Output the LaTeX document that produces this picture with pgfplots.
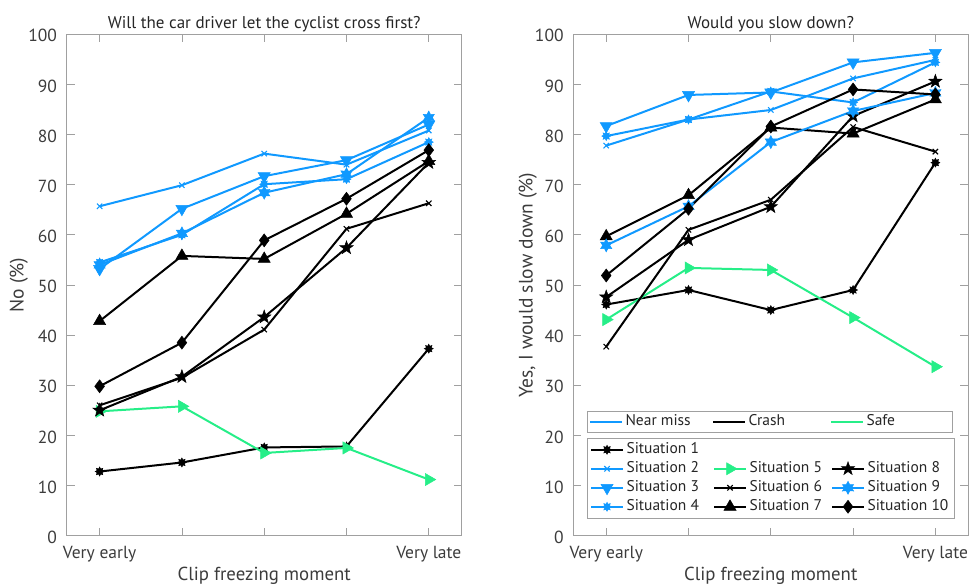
\documentclass[border=0pt]{standalone}
\usepackage{fontspec}
\setmainfont{PT Sans}
\usepackage{pgfplots}
\pgfplotsset{compat=1.18}
\definecolor{cblue}{RGB}{16,153,255}
\definecolor{cgreen}{RGB}{38,238,136}
\definecolor{axgray}{RGB}{160,160,160}
\definecolor{txtgray}{RGB}{60,60,60}
\definecolor{ttlgray}{RGB}{38,38,38}

\pgfdeclareplotmark{pentagram}{%
 \pgfpathmoveto{\pgfpointpolar{90}{\pgfplotmarksize}}%
 \pgfpathlineto{\pgfpointpolar{126}{0.4\pgfplotmarksize}}%
 \pgfpathlineto{\pgfpointpolar{162}{\pgfplotmarksize}}%
 \pgfpathlineto{\pgfpointpolar{198}{0.4\pgfplotmarksize}}%
 \pgfpathlineto{\pgfpointpolar{234}{\pgfplotmarksize}}%
 \pgfpathlineto{\pgfpointpolar{270}{0.4\pgfplotmarksize}}%
 \pgfpathlineto{\pgfpointpolar{306}{\pgfplotmarksize}}%
 \pgfpathlineto{\pgfpointpolar{342}{0.4\pgfplotmarksize}}%
 \pgfpathlineto{\pgfpointpolar{18}{\pgfplotmarksize}}%
 \pgfpathlineto{\pgfpointpolar{54}{0.4\pgfplotmarksize}}%
 \pgfpathclose\pgfusepathqfillstroke}
\pgfdeclareplotmark{hexagram}{%
 \pgfpathmoveto{\pgfpointpolar{90}{\pgfplotmarksize}}%
 \pgfpathlineto{\pgfpointpolar{120}{0.55\pgfplotmarksize}}%
 \pgfpathlineto{\pgfpointpolar{150}{\pgfplotmarksize}}%
 \pgfpathlineto{\pgfpointpolar{180}{0.55\pgfplotmarksize}}%
 \pgfpathlineto{\pgfpointpolar{210}{\pgfplotmarksize}}%
 \pgfpathlineto{\pgfpointpolar{240}{0.55\pgfplotmarksize}}%
 \pgfpathlineto{\pgfpointpolar{270}{\pgfplotmarksize}}%
 \pgfpathlineto{\pgfpointpolar{300}{0.55\pgfplotmarksize}}%
 \pgfpathlineto{\pgfpointpolar{330}{\pgfplotmarksize}}%
 \pgfpathlineto{\pgfpointpolar{0}{0.55\pgfplotmarksize}}%
 \pgfpathlineto{\pgfpointpolar{30}{\pgfplotmarksize}}%
 \pgfpathlineto{\pgfpointpolar{60}{0.55\pgfplotmarksize}}%
 \pgfpathclose\pgfusepathqfillstroke}
\pgfdeclareplotmark{octa}{%
 \pgfpathmoveto{\pgfpointpolar{0}{\pgfplotmarksize}}%
 \pgfpathlineto{\pgfpointpolar{22.5}{0.6\pgfplotmarksize}}%
 \pgfpathlineto{\pgfpointpolar{45}{\pgfplotmarksize}}%
 \pgfpathlineto{\pgfpointpolar{67.5}{0.6\pgfplotmarksize}}%
 \pgfpathlineto{\pgfpointpolar{90}{\pgfplotmarksize}}%
 \pgfpathlineto{\pgfpointpolar{112.5}{0.6\pgfplotmarksize}}%
 \pgfpathlineto{\pgfpointpolar{135}{\pgfplotmarksize}}%
 \pgfpathlineto{\pgfpointpolar{157.5}{0.6\pgfplotmarksize}}%
 \pgfpathlineto{\pgfpointpolar{180}{\pgfplotmarksize}}%
 \pgfpathlineto{\pgfpointpolar{202.5}{0.6\pgfplotmarksize}}%
 \pgfpathlineto{\pgfpointpolar{225}{\pgfplotmarksize}}%
 \pgfpathlineto{\pgfpointpolar{247.5}{0.6\pgfplotmarksize}}%
 \pgfpathlineto{\pgfpointpolar{270}{\pgfplotmarksize}}%
 \pgfpathlineto{\pgfpointpolar{292.5}{0.6\pgfplotmarksize}}%
 \pgfpathlineto{\pgfpointpolar{315}{\pgfplotmarksize}}%
 \pgfpathlineto{\pgfpointpolar{337.5}{0.6\pgfplotmarksize}}%
 \pgfpathclose\pgfusepathqfillstroke}

\tikzset{mk/.style={solid, line width=0.5pt}}
\pgfplotsset{
 myax/.style={
  scale only axis, width=395pt, height=501.4pt, anchor=south west,
  xmin=0.6, xmax=5.4, ymin=0, ymax=100,
  xtick={1,2,3,4,5}, xticklabels={Very early,,,,Very late},
  ytick={0,10,...,100},
  tick align=inside, major tick length=8pt,
  axis line style={axgray, line width=0.8pt},
  every tick/.style={axgray, line width=0.8pt},
  /pgf/number format/assume math mode=true,
  tick label style={font=\fontsize{17.5}{19}\selectfont, text=txtgray, inner sep=0pt},
  xticklabel style={anchor=base, yshift=-23.3pt},
  yticklabel style={anchor=east, xshift=-9.5pt, yshift=-1.5pt},
  every axis x label/.style={at={(rel axis cs:0.5,0)}, anchor=base, yshift=-45.3pt, font=\fontsize{18.8}{21}\selectfont, text=txtgray},
  every axis y label/.style={at={(rel axis cs:0,0.5)}, anchor=center, rotate=90, yshift=48pt, font=\fontsize{19.5}{21}\selectfont, text=txtgray},
  every axis title/.style={at={(rel axis cs:0.5,1)}, anchor=base, yshift=6pt, font=\fontsize{17}{19}\selectfont, text=ttlgray},
 },
 s1/.style={black, line width=2pt, mark=octa, mark size=4.5pt, mark options={mk}},
 s2/.style={cblue, line width=2pt, mark=x, mark size=3.8pt, mark options={solid, line width=1.1pt}},
 s3/.style={cblue, line width=2pt, mark=triangle*, mark size=7pt, mark options={mk, rotate=180}},
 s4/.style={cblue, line width=2pt, mark=octa, mark size=4.5pt, mark options={mk}},
 s5/.style={cgreen, line width=2pt, mark=triangle*, mark size=7pt, mark options={mk, rotate=-90}},
 s6/.style={black, line width=2pt, mark=x, mark size=3.8pt, mark options={solid, line width=1.1pt}},
 s7/.style={black, line width=2pt, mark=triangle*, mark size=7pt, mark options={mk}},
 s8/.style={black, line width=2pt, mark=pentagram, mark size=7pt, mark options={mk}},
 s9/.style={cblue, line width=2pt, mark=hexagram, mark size=6.5pt, mark options={mk}},
 s10/.style={black, line width=2pt, mark=diamond*, mark size=6.5pt, mark options={mk}},
 legax/.style={
  at={(573.3pt,49.3pt)}, anchor=south west, scale only axis, width=395pt, height=501.4pt,
  hide axis, xmin=0, xmax=1, ymin=0, ymax=1,
  legend columns=3, legend cell align=left,
  legend image code/.code={\draw[mark repeat=2,mark phase=2,##1] plot coordinates {(0pt,0pt) (16pt,0pt) (32pt,0pt)};},
 },
}
\newcommand{\la}[1]{\makebox[84pt][l]{#1}}
\newcommand{\lb}[1]{\makebox[79pt][l]{#1}}
\newcommand{\lc}[1]{\makebox[82pt][l]{#1}}

\begin{document}
\begin{tikzpicture}
\path[use as bounding box] (0,0) rectangle (970pt,585pt);

\begin{axis}[myax, at={(66.7pt,49.3pt)},
  title={Will the car driver let the cyclist cross first?},
  xlabel={Clip freezing moment}, ylabel={No (\%)}]
\addplot[s1] coordinates {(1,12.8)(2,14.6)(3,17.6)(4,17.8)(5,37.3)};
\addplot[s2] coordinates {(1,65.7)(2,69.9)(3,76.2)(4,74.0)(5,80.8)};
\addplot[s3] coordinates {(1,53.2)(2,65.2)(3,71.7)(4,74.9)(5,82.0)};
\addplot[s4] coordinates {(1,54.5)(2,60.0)(3,70.1)(4,71.1)(5,78.5)};
\addplot[s5] coordinates {(1,24.8)(2,25.8)(3,16.5)(4,17.5)(5,11.2)};
\addplot[s6] coordinates {(1,26.0)(2,31.5)(3,41.1)(4,61.2)(5,66.3)};
\addplot[s7] coordinates {(1,42.8)(2,55.8)(3,55.2)(4,64.2)(5,74.7)};
\addplot[s8] coordinates {(1,25.0)(2,31.7)(3,43.6)(4,57.4)(5,74.4)};
\addplot[s9] coordinates {(1,54.0)(2,60.3)(3,68.4)(4,72.1)(5,83.4)};
\addplot[s10] coordinates {(1,29.8)(2,38.5)(3,58.9)(4,67.2)(5,76.9)};
\end{axis}

\begin{axis}[myax, at={(573.3pt,49.3pt)},
  title={Would you slow down?},
  xlabel={Clip freezing moment}, ylabel={Yes, I would slow down (\%)},
  every axis y label/.append style={yshift=-2.5pt}]
\addplot[s1] coordinates {(1,46.1)(2,49.0)(3,45.0)(4,49.0)(5,74.4)};
\addplot[s2] coordinates {(1,77.8)(2,83.0)(3,84.9)(4,91.2)(5,94.9)};
\addplot[s3] coordinates {(1,81.7)(2,87.9)(3,88.4)(4,94.4)(5,96.3)};
\addplot[s4] coordinates {(1,79.7)(2,83.0)(3,88.6)(4,86.4)(5,94.4)};
\addplot[s5] coordinates {(1,43.1)(2,53.4)(3,53.0)(4,43.5)(5,33.7)};
\addplot[s6] coordinates {(1,37.7)(2,61.0)(3,67.0)(4,81.5)(5,76.6)};
\addplot[s7] coordinates {(1,59.7)(2,67.9)(3,81.4)(4,80.2)(5,87.0)};
\addplot[s8] coordinates {(1,47.6)(2,59.0)(3,65.6)(4,83.7)(5,90.6)};
\addplot[s9] coordinates {(1,57.9)(2,65.7)(3,78.5)(4,84.7)(5,88.3)};
\addplot[s10] coordinates {(1,51.9)(2,65.2)(3,81.6)(4,89.0)(5,88.0)};
\end{axis}

\begin{axis}[legax,
  legend style={at={(rel axis cs:0.034,0.2487)}, anchor=north west,
    draw=axgray, line width=0.6pt, fill=white, inner sep=2pt, column sep=1pt, row sep=2pt,
    font=\fontsize{15.5}{17}\selectfont, text=ttlgray,
    nodes={inner sep=1.5pt, text height=11pt, text depth=3pt}}]
\addlegendimage{cblue, line width=2pt}\addlegendentry{\la{Near miss}}
\addlegendimage{black, line width=2pt}\addlegendentry{\lb{Crash}}
\addlegendimage{cgreen, line width=2pt}\addlegendentry{\lc{Safe}}
\end{axis}

\begin{axis}[legax,
  legend style={at={(rel axis cs:0.034,0.1949)}, anchor=north west,
    draw=axgray, line width=0.6pt, fill=white, inner sep=3pt, column sep=1pt, row sep=2pt,
    font=\fontsize{15.5}{17}\selectfont, text=ttlgray,
    nodes={inner sep=1.5pt, text height=11pt, text depth=3pt}}]
\addlegendimage{s1}\addlegendentry{\la{Situation 1}}
\addlegendimage{empty legend}\addlegendentry{\lb{}}
\addlegendimage{empty legend}\addlegendentry{\lc{}}
\addlegendimage{s2}\addlegendentry{\la{Situation 2}}
\addlegendimage{s5}\addlegendentry{\lb{Situation 5}}
\addlegendimage{s8}\addlegendentry{\lc{Situation 8}}
\addlegendimage{s3}\addlegendentry{\la{Situation 3}}
\addlegendimage{s6}\addlegendentry{\lb{Situation 6}}
\addlegendimage{s9}\addlegendentry{\lc{Situation 9}}
\addlegendimage{s4}\addlegendentry{\la{Situation 4}}
\addlegendimage{s7}\addlegendentry{\lb{Situation 7}}
\addlegendimage{s10}\addlegendentry{\lc{Situation 10}}
\end{axis}
\end{tikzpicture}
\end{document}
